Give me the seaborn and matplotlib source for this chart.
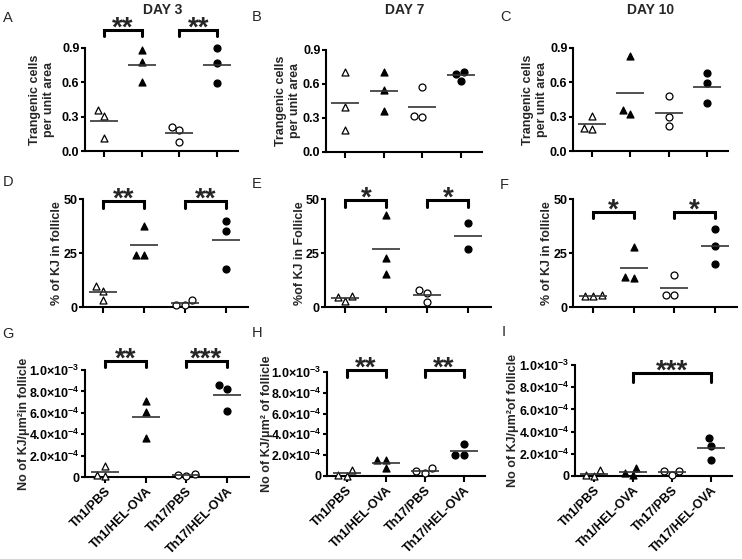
import numpy as np
import pandas as pd
import matplotlib
matplotlib.use("Agg")
import matplotlib.pyplot as plt
import matplotlib.transforms as mtransforms
import seaborn as sns

groups = ["Th1/PBS", "Th1/HEL-OVA", "Th17/PBS", "Th17/HEL-OVA"]

# transgenic cells per unit area
tg_day3 = [[0.36, 0.31, 0.11], [0.88, 0.78, 0.60], [0.21, 0.18, 0.08], [0.90, 0.77, 0.59]]
tg_day7 = [[0.71, 0.40, 0.19], [0.71, 0.55, 0.36], [0.57, 0.31, 0.32], [0.71, 0.63, 0.69]]
tg_day10 = [[0.31, 0.19, 0.20], [0.83, 0.32, 0.36], [0.48, 0.22, 0.30], [0.68, 0.59, 0.42]]

# % of KJ in follicle
pct_day3 = [[9.6, 7.5, 3.4], [37.6, 24.2, 24.2], [3.3, 1.1, 1.1], [39.9, 35.1, 17.4]]
pct_day7 = [[5.0, 2.6, 4.7], [42.5, 22.5, 15.5], [7.8, 6.5, 2.3], [39.1, 26.9]]
pct_day10 = [[5.6, 5.0, 5.3], [27.6, 13.2, 13.7], [14.8, 5.7, 5.7], [36.2, 28.3, 19.9]]

# KJ per um2 of follicle
den_day3 = [[1.0e-4, 0.1e-4, 0.2e-4], [7.1e-4, 6.1e-4, 3.6e-4], [0.3e-4, 0.1e-4, 0.15e-4], [8.6e-4, 8.2e-4, 6.2e-4]]
den_day7 = [[0.6e-4, 0.0, 0.13e-4], [1.58e-4, 0.76e-4, 1.55e-4], [0.76e-4, 0.32e-4, 0.48e-4], [3.07e-4, 2.06e-4, 2.06e-4]]
den_day10 = [[0.53e-4, 0.0, 0.06e-4], [0.75e-4, 0.06e-4, 0.28e-4], [0.47e-4, 0.12e-4, 0.44e-4], [3.42e-4, 2.7e-4, 1.4e-4]]

tg_ticks = [0.0, 0.3, 0.6, 0.9]
pct_ticks = [0, 25, 50]
den_ticks = [0, 2e-4, 4e-4, 6e-4, 8e-4, 1e-3]

day_titles = ["DAY 3", "DAY 7", "DAY 10"]

# comparisons: (group a, group b, stars)
sig_A = [(0, 1, "**"), (2, 3, "**")]
sig_D = [(0, 1, "**"), (2, 3, "**")]
sig_E = [(0, 1, "*"), (2, 3, "*")]
sig_F = [(0, 1, "*"), (2, 3, "*")]
sig_G = [(0, 1, "**"), (2, 3, "***")]
sig_H = [(0, 1, "**"), (2, 3, "**")]
sig_I = [(1, 3, "***")]

sns.set_style("ticks")
plt.rcParams["font.family"] = "Liberation Sans"
plt.rcParams["font.weight"] = "bold"
plt.rcParams["mathtext.fontset"] = "custom"
plt.rcParams["mathtext.rm"] = "Liberation Sans:bold"
plt.rcParams["mathtext.bf"] = "Liberation Sans:bold"
plt.rcParams["mathtext.it"] = "Liberation Sans:bold:italic"
plt.rcParams["mathtext.sf"] = "Liberation Sans:bold"

W, H = 742, 559
fig = plt.figure(figsize=(W / 100, H / 100), dpi=100)

styles = [("^", "white"), ("^", "black"), ("o", "white"), ("o", "black")]


def den_fmt(v):
    if v == 0:
        return "0"
    e = int(np.floor(np.log10(v) + 1e-9))
    m = v / 10 ** e
    return r"$\mathrm{%.1f{\times}10^{%d}}$" % (m, e)


def panel(box, vals, ticks, fmt, ylabel, label_x, sig, sig_y, leg_px, xlabels=False):
    l, r, t, b = box
    ax = fig.add_axes([l / W, 1 - b / H, (r - l) / W, (b - t) / H])
    df = pd.DataFrame({
        "group": np.repeat(groups, [len(v) for v in vals]),
        "value": np.concatenate(vals),
    })
    for g, (mk, fc) in zip(groups, styles):
        sns.swarmplot(data=df[df["group"] == g], x="group", y="value", order=groups,
                      marker=mk, color=fc, edgecolor="black", linewidth=0.9,
                      size=5, ax=ax, zorder=3)
    sns.pointplot(data=df, x="group", y="value", order=groups, estimator="mean",
                  errorbar=None, linestyle="none", marker="_", markersize=20,
                  markeredgewidth=1.2, color="#333333", ax=ax, zorder=4)
    for c in ax.collections:
        c.set_clip_on(False)
    for ln in ax.lines:
        ln.set_clip_on(False)

    ax.set_xlim(-0.5, 3.55)
    ax.set_ylim(ticks[0], ticks[-1])
    ax.set_yticks(ticks)
    ax.set_yticklabels([fmt(v) for v in ticks], fontweight="bold")
    ax.set_xticks(range(len(groups)))
    if xlabels:
        ax.set_xticklabels(groups, rotation=45, ha="right", rotation_mode="anchor",
                           fontweight="bold")
    else:
        ax.set_xticklabels([])
    ax.set_xlabel("")
    ax.set_ylabel(ylabel, fontsize=9, fontweight="bold", va="center", linespacing=1.3)
    ax.yaxis.set_label_coords((label_x - l) / (r - l), 0.5)
    sns.despine(ax=ax)
    for s in ("left", "bottom"):
        ax.spines[s].set_linewidth(1.5)
        ax.spines[s].set_color("black")
    ax.tick_params(axis="y", length=3, width=1.5, pad=1, labelsize=9, colors="black")
    ax.tick_params(axis="x", length=4, width=1.5, pad=2, labelsize=9, colors="black")

    trans = mtransforms.blended_transform_factory(ax.transData, ax.transAxes)
    leg = leg_px / (b - t)
    for i, j, stars in sig:
        ax.plot([i, i, j, j], [sig_y - leg, sig_y, sig_y, sig_y - leg], color="black",
                lw=2.2, transform=trans, clip_on=False, solid_joinstyle="miter",
                solid_capstyle="round")
        ax.annotate(stars, xy=((i + j) / 2, sig_y), xycoords=trans, xytext=(0, -4),
                    textcoords="offset points", ha="center", va="baseline",
                    fontsize=20, fontweight="bold", annotation_clip=False)
    return ax


tg_label = "Trangenic cells\nper unit area"
f1 = lambda v: "%.1f" % v
f2 = lambda v: "%d" % v

panel((85, 238, 48, 151), tg_day3, tg_ticks, f1, tg_label, 42, sig_A, 1.175, 6)
panel((326, 482, 50, 152), tg_day7, tg_ticks, f1, tg_label, 288, [], 1.0, 6)
panel((573, 728, 48, 151), tg_day10, tg_ticks, f1, tg_label, 535, [], 1.0, 6)

panel((83, 248, 199, 307), pct_day3, pct_ticks, f2, "% of KJ in follicle", 57, sig_D, 0.98, 7)
panel((325, 491, 199, 307), pct_day7, pct_ticks, f2, "%of KJ in Follicle", 300, sig_E, 0.99, 7)
panel((573, 737, 199, 307), pct_day10, pct_ticks, f2, "% of KJ in follicle", 547, sig_F, 0.88, 6)

panel((85, 249, 370, 477), den_day3, den_ticks, den_fmt, "No of KJ/\u03bcm\u00b2in follicle", 24, sig_G, 1.084, 6, True)
panel((327, 485, 372, 476), den_day7, den_ticks, den_fmt, "No of KJ/\u03bcm\u00b2 of follicle", 267, sig_H, 1.02, 7, True)
panel((575, 732, 365, 476), den_day10, den_ticks, den_fmt, "No of KJ/\u03bcm\u00b2of follicle", 513, sig_I, 0.93, 9, True)

for x, title in zip([163, 405, 651], day_titles):
    fig.text(x / W, 1 - 10 / H, title, ha="center", va="center", fontsize=10, fontweight="bold")

letters = [("A", 3, 18), ("B", 252, 17), ("C", 500, 17),
           ("D", 3, 182), ("E", 252, 184), ("F", 500, 185),
           ("G", 2, 334), ("H", 252, 333), ("I", 502, 332)]
for s, x, y in letters:
    fig.text(x / W, 1 - y / H, s, ha="left", va="center", fontsize=10.5, fontweight="normal")

fig.savefig("out.png", dpi=100)
